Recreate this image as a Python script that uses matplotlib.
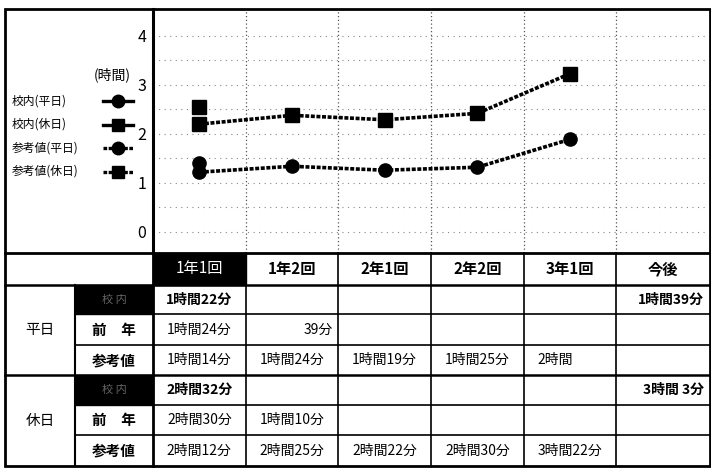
import numpy as np
import matplotlib
matplotlib.use("Agg")
import matplotlib.pyplot as plt
from matplotlib.patches import Rectangle

plt.rcParams['font.family'] = ['Noto Sans CJK JP', 'DejaVu Sans']

# data
rounds = ['1年1回', '1年2回', '2年1回', '2年2回', '3年1回', '今後']
school_weekday = [1.40]
school_holiday = [2.54]
ref_weekday = [1.22, 1.34, 1.26, 1.32, 1.89]
ref_holiday = [2.20, 2.38, 2.29, 2.42, 3.23]
yticks = [0, 1, 2, 3, 4]

group_labels = ['平日', '休日']
row_labels = ['校 内', '前　年', '参考値']
weekday_school = ['1時間22分', '', '', '', '', '1時間39分']
weekday_prev = ['1時間24分', '39分', '', '', '', '']
weekday_ref = ['1時間14分', '1時間24分', '1時間19分', '1時間25分', '2時間', '']
holiday_school = ['2時間32分', '', '', '', '', '3時間 3分']
holiday_prev = ['2時間30分', '1時間10分', '', '', '', '']
holiday_ref = ['2時間12分', '2時間25分', '2時間22分', '2時間30分', '3時間22分', '']

W, H = 711, 475
fig = plt.figure(figsize=(W / 100, H / 100), dpi=100)

# pixel layout
left, right = 153, 709
top, chart_bottom = 9, 253
row_y = [253, 285, 314, 345, 375, 405, 435, 466]
colw = (right - left) / len(rounds)

ax = fig.add_axes([left / W, 1 - chart_bottom / H, (right - left) / W, (chart_bottom - top) / H])
ax.set_xlim(0, len(rounds))
ax.set_ylim(-0.43, 4.55)
ax.set_yticks(yticks)
ax.set_yticks(np.arange(0, 4.01, 0.5), minor=True)
ax.set_xticks([])
ax.tick_params(axis='y', length=0, pad=5, labelsize=11.5)
ax.tick_params(axis='y', which='minor', length=0)
for s in ['top', 'right', 'bottom']:
    ax.spines[s].set_visible(False)
ax.spines['left'].set_linewidth(2.2)
ax.grid(axis='y', which='both', linestyle=(0, (1, 4)), color='#888888', linewidth=0.8)
for i in range(1, len(rounds)):
    ax.axvline(i, color='#555555', linestyle=(0, (1, 2)), linewidth=0.9)

xs = np.arange(len(ref_weekday)) + 0.5
dash = (0, (1.1, 0.45))
ax.plot(xs, ref_weekday, linestyle=dash, color='black', lw=2.6, marker='o', ms=9.5, zorder=3)
ax.plot(xs, ref_holiday, linestyle=dash, color='black', lw=2.6, marker='s', ms=9.5, zorder=3)
ax.plot(xs[:len(school_weekday)], school_weekday, '-o', color='black', ms=9.5, zorder=3)
ax.plot(xs[:len(school_holiday)], school_holiday, '-s', color='black', ms=9.5, zorder=3)

# overlay in pixel coordinates for table, legend and frame
ov = fig.add_axes([0, 0, 1, 1], zorder=5)
ov.set_xlim(0, W)
ov.set_ylim(H, 0)
ov.axis('off')
ov.patch.set_visible(False)

# legend
ov.text(131, 75, '(時間)', ha='right', va='center', fontsize=10)
leg = [('校内(平日)', 'o', '-'), ('校内(休日)', 's', '-'),
       ('参考値(平日)', 'o', dash), ('参考値(休日)', 's', dash)]
for k, (lab, mk, ls) in enumerate(leg):
    y = 101 + k * 23.5
    ov.text(12, y, lab, ha='left', va='center', fontsize=8.5)
    ov.plot([103, 133], [y, y], color='black', linestyle=ls, lw=2.4)
    ov.plot([118], [y], marker=mk, color='black', ms=9)

# frame
ov.add_patch(Rectangle((5, top), W - 6, row_y[-1] - top, fill=False, lw=2, ec='black'))
ov.plot([left, left], [top, row_y[-1]], color='black', lw=2)

# table grid
ov.plot([5, right + 1], [row_y[0], row_y[0]], color='black', lw=2)
ov.plot([5, right + 1], [row_y[1], row_y[1]], color='black', lw=1.8)
ov.plot([5, right + 1], [row_y[4], row_y[4]], color='black', lw=1.8)
for r in [2, 3, 5, 6]:
    ov.plot([75, right + 1], [row_y[r], row_y[r]], color='black', lw=1.2)
ov.plot([75, 75], [row_y[1], row_y[-1]], color='black', lw=1.5)
for i in range(1, len(rounds)):
    x = left + i * colw
    ov.plot([x, x], [row_y[0], row_y[-1]], color='black', lw=1.2)

for i, name in enumerate(rounds):
    cx = left + (i + 0.5) * colw
    if i == 0:
        ov.add_patch(Rectangle((left, row_y[0]), colw, row_y[1] - row_y[0], color='black'))
        ov.text(cx, (row_y[0] + row_y[1]) / 2, name, ha='center', va='center',
                fontsize=11, color='white')
    else:
        ov.text(cx, (row_y[0] + row_y[1]) / 2, name, ha='center', va='center',
                fontsize=11, fontweight='bold')

rows = [weekday_school, weekday_prev, weekday_ref, holiday_school, holiday_prev, holiday_ref]
align = {(1, 1): 'right', (2, 4): 'left', (0, 5): 'right', (3, 5): 'right'}
for r, vals in enumerate(rows):
    y0, y1 = row_y[r + 1], row_y[r + 2]
    cy = (y0 + y1) / 2
    lab = row_labels[r % 3]
    if r % 3 == 0:
        ov.add_patch(Rectangle((75, y0), left - 75, y1 - y0, color='black'))
        ov.text(114, cy, lab, ha='center', va='center', fontsize=8, color='#666666')
    else:
        ov.text(114, cy, lab, ha='center', va='center', fontsize=10.5, fontweight='bold')
    bold = r % 3 == 0
    for i, v in enumerate(vals):
        if not v:
            continue
        ha = align.get((r, i), 'center')
        x = left + (i + 0.5) * colw
        if ha == 'right':
            x = left + (i + 1) * colw - 5
        elif ha == 'left':
            x = left + i * colw + 14
        ov.text(x, cy, v, ha=ha, va='center', fontsize=10,
                fontweight='bold' if bold else 'normal')

for g, lab in enumerate(group_labels):
    cy = (row_y[1 + g * 3] + row_y[4 + g * 3]) / 2
    ov.text(40, cy, lab, ha='center', va='center', fontsize=10.5)

fig.savefig('out.png', dpi=100)
